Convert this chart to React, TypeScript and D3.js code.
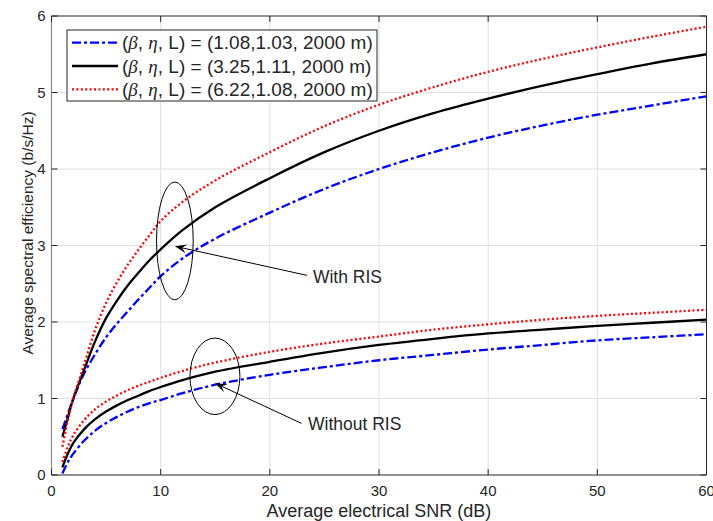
import React from 'react';
import * as d3 from 'd3';

// SNR points (dB)
const snr = [1, 1.5, 2, 3, 4, 5, 6, 7, 8, 9, 10, 12, 15, 20, 25, 30, 35, 40, 45, 50, 55, 60];

// with RIS
const withBlue = [0.6, 0.8, 1.0, 1.33, 1.58, 1.8, 1.98, 2.14, 2.3, 2.45, 2.6, 2.83, 3.09, 3.43, 3.74, 4.0, 4.22, 4.41, 4.57, 4.71, 4.83, 4.95];
const withBlack = [0.5, 0.75, 1.0, 1.38, 1.75, 2.05, 2.28, 2.48, 2.65, 2.81, 2.95, 3.2, 3.5, 3.88, 4.22, 4.5, 4.73, 4.92, 5.09, 5.24, 5.38, 5.5];
const withRed = [0.37, 0.72, 1.0, 1.45, 1.9, 2.25, 2.52, 2.75, 2.95, 3.14, 3.32, 3.57, 3.85, 4.22, 4.56, 4.84, 5.07, 5.27, 5.44, 5.59, 5.73, 5.86];

// without RIS
const noBlue = [0.02, 0.17, 0.28, 0.45, 0.58, 0.68, 0.76, 0.83, 0.89, 0.94, 0.98, 1.07, 1.18, 1.31, 1.41, 1.5, 1.57, 1.64, 1.7, 1.76, 1.8, 1.84];
const noBlack = [0.1, 0.28, 0.42, 0.6, 0.73, 0.83, 0.91, 0.98, 1.04, 1.1, 1.15, 1.24, 1.35, 1.48, 1.6, 1.7, 1.78, 1.85, 1.9, 1.95, 1.99, 2.03];
const noRed = [0.17, 0.37, 0.52, 0.72, 0.86, 0.96, 1.04, 1.11, 1.17, 1.22, 1.27, 1.36, 1.47, 1.61, 1.72, 1.81, 1.9, 1.97, 2.03, 2.08, 2.12, 2.16];

const xTicks = [0, 10, 20, 30, 40, 50, 60];
const yTicks = [0, 1, 2, 3, 4, 5, 6];
const legendParams = ['1.08,1.03, 2000 m', '3.25,1.11, 2000 m', '6.22,1.08, 2000 m'];

const W = 713;
const H = 521;
const FONT = '"Liberation Sans", Arial, Helvetica, sans-serif';
const SERIF = '"Liberation Serif", "DejaVu Serif", serif';
const TXT = '#262626';

const styles = [
  { color: '#0000ff', dash: '9,3,3,3' },
  { color: '#000000', dash: null },
  { color: '#ff0000', dash: '2,2.4' },
];

export default function App() {
  const x = d3.scaleLinear().domain([0, 60]).range([51.5, 706.5]);
  const y = d3.scaleLinear().domain([0, 6]).range([475, 16]);
  const line = d3
    .line<number>()
    .x((_, i) => x(snr[i]))
    .y(d => y(d))
    .curve(d3.curveCatmullRom.alpha(0.5));

  const series = [
    { v: noBlue, s: styles[0] },
    { v: noBlack, s: styles[1] },
    { v: noRed, s: styles[2] },
    { v: withBlue, s: styles[0] },
    { v: withBlack, s: styles[1] },
    { v: withRed, s: styles[2] },
  ];

  const [x0, x1] = x.range();
  const [y0, y1] = y.range();

  // arrow with filled head, ends given in data units
  const arrow = (tx: number, ty: number, hx: number, hy: number) => {
    const ax = x(tx), ay = y(ty), bx = x(hx), by = y(hy);
    const ang = Math.atan2(by - ay, bx - ax);
    const L = 12, Wd = 4.5;
    const p1 = [bx - L * Math.cos(ang) + Wd * Math.sin(ang), by - L * Math.sin(ang) - Wd * Math.cos(ang)];
    const p2 = [bx - L * Math.cos(ang) - Wd * Math.sin(ang), by - L * Math.sin(ang) + Wd * Math.cos(ang)];
    const pm = [bx - 0.6 * L * Math.cos(ang), by - 0.6 * L * Math.sin(ang)];
    return (
      <g>
        <line x1={ax} y1={ay} x2={pm[0]} y2={pm[1]} stroke="#000" strokeWidth={1} />
        <path d={`M${bx},${by}L${p1[0]},${p1[1]}L${pm[0]},${pm[1]}L${p2[0]},${p2[1]}Z`} fill="#000" />
      </g>
    );
  };

  const legX = 67, legY = 30, legW = 310, legH = 71;

  return (
    <svg width={W} height={H} style={{ position: 'absolute', left: 0, top: 0, background: '#fff' }} fontFamily={FONT}>
      <rect x={0} y={0} width={W} height={H} fill="#fff" />
      {/* grid */}
      {xTicks.slice(1, -1).map(t => (
        <line key={'gx' + t} x1={x(t)} x2={x(t)} y1={y0} y2={y1} stroke="#e0e0e0" strokeWidth={1} />
      ))}
      {yTicks.slice(1, -1).map(t => (
        <line key={'gy' + t} x1={x0} x2={x1} y1={y(t)} y2={y(t)} stroke="#e0e0e0" strokeWidth={1} />
      ))}

      {/* curves */}
      {series.map((d, i) => (
        <path
          key={i}
          d={line(d.v) || ''}
          fill="none"
          stroke={d.s.color}
          strokeWidth={2.3}
          strokeDasharray={d.s.dash || undefined}
        />
      ))}

      {/* axes box */}
      <line x1={x0} x2={x1} y1={y0} y2={y0} stroke={TXT} strokeWidth={1} />
      <line x1={x0} x2={x1} y1={y1} y2={y1} stroke={TXT} strokeWidth={1} />
      <line x1={x1} x2={x1} y1={y0} y2={y1} stroke={TXT} strokeWidth={1} />
      <line x1={x0} x2={x0} y1={y0} y2={y1} stroke="#8a8a8a" strokeWidth={1.2} />
      {xTicks.map(t => (
        <g key={'tx' + t}>
          <line x1={x(t)} x2={x(t)} y1={y0} y2={y0 - 6} stroke={TXT} />
          <line x1={x(t)} x2={x(t)} y1={y1} y2={y1 + 6} stroke={TXT} />
          <text x={x(t)} y={y0 + 21} textAnchor="middle" fontSize={15} fill={TXT}>{t}</text>
        </g>
      ))}
      {yTicks.map(t => (
        <g key={'ty' + t}>
          <line x1={x0} x2={x0 + 6} y1={y(t)} y2={y(t)} stroke={TXT} />
          <line x1={x1} x2={x1 - 6} y1={y(t)} y2={y(t)} stroke={TXT} />
          <text x={x0 - 6} y={y(t) + 5} textAnchor="end" fontSize={15} fill={TXT}>{t}</text>
        </g>
      ))}
      <text x={379} y={517} textAnchor="middle" fontSize={18} fill={TXT}>Average electrical SNR (dB)</text>
      <text transform="translate(33,233) rotate(-90)" textAnchor="middle" fontSize={15.5} fill={TXT}>
        Average spectral efficiency (b/s/Hz)
      </text>

      {/* annotations */}
      <ellipse cx={x(11.3)} cy={y(3.06)} rx={x(11.3 + 1.68) - x(11.3)} ry={y(0) - y(0.77)} fill="none" stroke="#000" strokeWidth={1} />
      {arrow(23.4, 2.61, 11.3, 2.99)}
      <text x={x(23.95)} y={y(2.51)} fontSize={17.5} fill={TXT}>With RIS</text>
      <ellipse cx={x(14.97)} cy={y(1.29)} rx={x(14.97 + 2.29) - x(14.97)} ry={y(0) - y(0.5)} fill="none" stroke="#000" strokeWidth={1} />
      {arrow(22.9, 0.675, 14.98, 1.2)}
      <text x={x(23.5)} y={y(0.59)} fontSize={17.5} fill={TXT}>Without RIS</text>

      {/* legend */}
      <rect x={legX} y={legY} width={legW} height={legH} fill="#fff" stroke={TXT} strokeWidth={1} />
      {legendParams.map((p, i) => {
        const ry = legY + 12.7 + i * 23.3;
        return (
          <g key={'lg' + i}>
            <line x1={legX + 5} x2={legX + 51} y1={ry} y2={ry} stroke={styles[i].color} strokeWidth={2.3} strokeDasharray={styles[i].dash || undefined} />
            <text x={legX + 55} y={ry + 6.5} fontSize={19} fill={TXT}>
              (<tspan fontFamily={SERIF} fontStyle="italic">β</tspan>,{' '}
              <tspan fontFamily={SERIF} fontStyle="italic">η</tspan>, L) = ({p})
            </text>
          </g>
        );
      })}
    </svg>
  );
}
